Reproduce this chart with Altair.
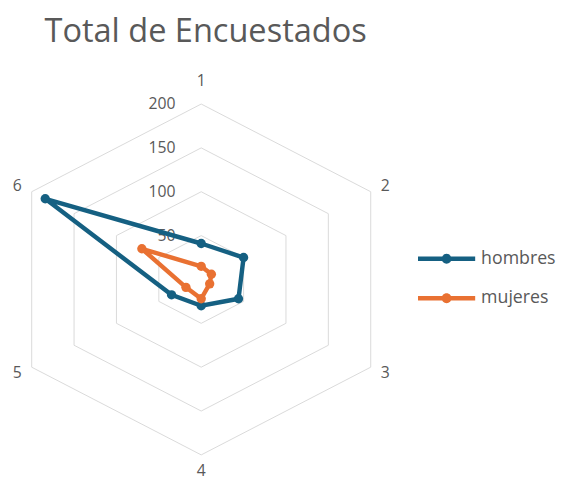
import math
import altair as alt
import pandas as pd

# ---- data ----
categories = ["1", "2", "3", "4", "5", "6"]
hombres = [41, 50, 44, 30, 35, 184]
mujeres = [15, 12, 10, 22, 18, 70]
series_names = ["hombres", "mujeres"]
ring_values = [50, 100, 150, 200]
tick_labels = ["50", "100", "150", "200"]

BLUE = "#156082"
ORANGE = "#E97132"
GRAY_TEXT = "#595959"
GRID = "#d9d9d9"
FONT = "Open Sans"

# ---- tables built from the arrays ----
rows = []
for name, vals in zip(series_names, [hombres, mujeres]):
    n = len(categories)
    for k in range(n + 1):
        i = k % n
        rows.append({"serie": name, "cat": categories[i], "idx": i,
                     "ord": k, "valor": vals[i], "closing": k == n})
series_df = pd.DataFrame(rows)

ring_rows = []
for rv in ring_values:
    for k in range(len(categories) + 1):
        ring_rows.append({"ring": rv, "idx": k % len(categories), "ord": k, "valor": rv})
ring_df = pd.DataFrame(ring_rows)

cat_df = pd.DataFrame({"cat": categories, "idx": list(range(len(categories)))})
tick_df = pd.DataFrame({"valor": ring_values, "label": tick_labels})

N = len(categories)
ang = f"datum.idx * 2 * PI / {N}"

xs = alt.Scale(domain=[-197.4, 362.5], nice=False, zero=False)
ys = alt.Scale(domain=[-227.0, 249.4], nice=False, zero=False)

def polar(chart):
    return chart.transform_calculate(
        px=f"datum.valor * sin({ang})",
        py=f"datum.valor * cos({ang})",
    )

rings = polar(alt.Chart(ring_df)).mark_line(
    color=GRID, strokeWidth=1
).encode(
    x=alt.X("px:Q", scale=xs, axis=None),
    y=alt.Y("py:Q", scale=ys, axis=None),
    detail="ring:N",
    order="ord:Q",
)

ticks = alt.Chart(tick_df).mark_text(
    align="right", baseline="middle", dx=-26, fontSize=16, font=FONT, color=GRAY_TEXT
).transform_calculate(px="0").encode(
    x=alt.X("px:Q", scale=xs, axis=None),
    y=alt.Y("valor:Q", scale=ys, axis=None),
    text="label:N",
)

cat_labels = alt.Chart(cat_df).mark_text(
    align="center", baseline="middle", fontSize=16, font=FONT, color=GRAY_TEXT
).transform_calculate(
    px=f"217 * sin({ang})",
    py=f"cos({ang}) * (200 + 26 * abs(cos({ang}))) + (cos({ang}) < -0.9 ? 8 : 0)",
).encode(
    x=alt.X("px:Q", scale=xs, axis=None),
    y=alt.Y("py:Q", scale=ys, axis=None),
    text="cat:N",
)

color = alt.Color(
    "serie:N",
    scale=alt.Scale(domain=series_names, range=[BLUE, ORANGE]),
    legend=alt.Legend(
        title=None,
        orient="none",
        legendX=436,
        legendY=192,
        symbolType="M-5.8,-0.45H5.8V0.45H-5.8Z M1,0A1,1 0 1,1 -1,0A1,1 0 1,1 1,0Z",
        symbolSize=100,
        symbolStrokeWidth=0,
        symbolOpacity=1,
        labelOffset=26,
        rowPadding=22,
        labelFontSize=18,
        labelFont=FONT,
        labelColor=GRAY_TEXT,
    ),
)

lines = polar(alt.Chart(series_df)).mark_line(strokeWidth=4.5).encode(
    x=alt.X("px:Q", scale=xs, axis=None),
    y=alt.Y("py:Q", scale=ys, axis=None),
    color=color,
    order="ord:Q",
)

points = polar(alt.Chart(series_df)).transform_filter(
    "!datum.closing"
).mark_point(filled=True, size=90, opacity=1).encode(
    x=alt.X("px:Q", scale=xs, axis=None),
    y=alt.Y("py:Q", scale=ys, axis=None),
    color=color,
)

chart = alt.layer(rings, ticks, cat_labels, lines, points).properties(
    width=556,
    height=424,
    autosize=alt.AutoSizeParams(type="none"),
    padding={"left": 0, "top": 50, "right": 0, "bottom": 0},
    title=alt.TitleParams(
        "Total de Encuestados",
        anchor="start",
        frame="group",
        dx=37,
        dy=30,
        offset=16,
        baseline="alphabetic",
        font=FONT,
        fontSize=33,
        fontWeight="normal",
        color=GRAY_TEXT,
    ),
).configure_view(stroke=None)

chart.save("out.html", embed_options={"renderer": "svg", "actions": False})
